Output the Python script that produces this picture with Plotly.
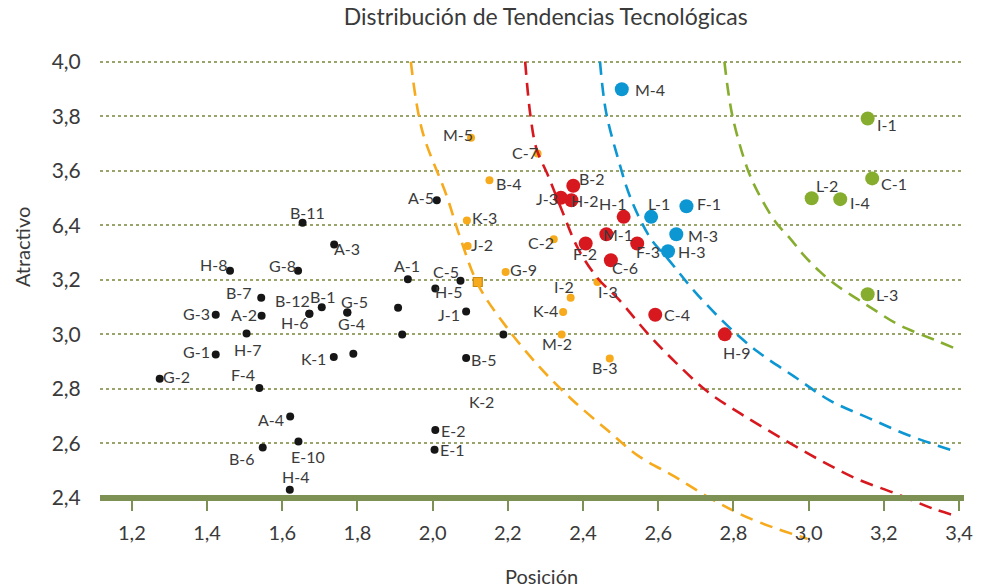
import plotly.graph_objects as go

# ---------------- data ----------------
black_names = ["B-11", "A-3", "H-8", "G-8", "B-7", "B-12", "H-6", "B-1", "G-5", "G-4",
               "G-3", "A-2", "H-7", "G-1", "K-1", "G-2", "F-4", "A-4", "E-10", "B-6",
               "H-4", "E-2", "E-1", "K-2", "A-1", "C-5", "H-5", "J-1", "B-5", "A-5",
               "", "", ""]
black_x = [1.654, 1.738, 1.461, 1.642, 1.544, 1.672, 1.672, 1.705, 1.773, 1.773,
           1.423, 1.545, 1.505, 1.423, 1.737, 1.274, 1.539, 1.621, 1.643, 1.548,
           1.620, 2.007, 2.005, 2.188, 1.934, 2.074, 2.007, 2.089, 2.089, 2.011,
           1.789, 1.908, 1.919]
black_y = [3.409, 3.330, 3.233, 3.233, 3.134, 3.076, 3.076, 3.099, 3.080, 3.080,
           3.072, 3.068, 3.003, 2.926, 2.917, 2.837, 2.803, 2.699, 2.607, 2.585,
           2.430, 2.649, 2.577, 2.999, 3.202, 3.197, 3.168, 3.084, 2.913, 3.492,
           2.929, 3.098, 2.999]

orange_names = ["M-5", "C-7", "B-4", "K-3", "J-2", "C-2", "G-9", "I-2", "I-3", "K-4", "M-2", "B-3"]
orange_x = [2.102, 2.279, 2.151, 2.091, 2.093, 2.322, 2.194, 2.367, 2.438, 2.347, 2.343, 2.471]
orange_y = [3.721, 3.663, 3.565, 3.418, 3.324, 3.349, 3.229, 3.134, 3.192, 3.082, 2.999, 2.911]

square_x = [2.120]
square_y = [3.192]

red_names = ["B-2", "J-3", "H-2", "H-1", "M-1", "F-2", "F-3", "C-6", "C-4", "H-9"]
red_x = [2.374, 2.341, 2.369, 2.508, 2.462, 2.407, 2.544, 2.474, 2.592, 2.777]
red_y = [3.545, 3.501, 3.492, 3.431, 3.367, 3.333, 3.333, 3.272, 3.072, 3.000]

blue_names = ["M-4", "L-1", "F-1", "M-3", "H-3"]
blue_x = [2.503, 2.581, 2.675, 2.648, 2.626]
blue_y = [3.899, 3.431, 3.470, 3.367, 3.305]

green_names = ["I-1", "C-1", "L-2", "I-4", "L-3"]
green_x = [3.157, 3.169, 3.008, 3.084, 3.157]
green_y = [3.792, 3.572, 3.499, 3.496, 3.147]

# dashed boundary curves
curve_orange_x = [1.942, 1.972, 2.037, 2.074, 2.122, 2.193, 2.281, 2.368,
                  2.466, 2.546, 2.644, 2.739, 2.845, 2.996]
curve_orange_y = [4.000, 3.748, 3.509, 3.351, 3.179, 3.033, 2.885, 2.764,
                  2.647, 2.555, 2.478, 2.398, 2.324, 2.250]
curve_red_x = [2.246, 2.260, 2.276, 2.307, 2.342, 2.387, 2.440, 2.493, 2.572, 2.644,
               2.731, 2.819, 2.917, 3.023, 3.128, 3.234, 3.332, 3.399]
curve_red_y = [4.000, 3.803, 3.681, 3.582, 3.461, 3.314, 3.204, 3.131, 3.003, 2.900,
               2.790, 2.709, 2.628, 2.544, 2.470, 2.415, 2.360, 2.331]
curve_blue_x = [2.445, 2.461, 2.493, 2.527, 2.580, 2.625, 2.697, 2.784, 2.864, 2.962,
                3.057, 3.163, 3.269, 3.385]
curve_blue_y = [4.000, 3.817, 3.645, 3.498, 3.351, 3.278, 3.157, 3.032, 2.937, 2.845,
                2.757, 2.691, 2.628, 2.573]
curve_green_x = [2.776, 2.797, 2.837, 2.864, 2.911, 2.951, 2.988, 3.030, 3.075,
                 3.128, 3.181, 3.234, 3.287, 3.340, 3.385]
curve_green_y = [4.000, 3.803, 3.608, 3.524, 3.414, 3.351, 3.289, 3.230, 3.179,
                 3.131, 3.084, 3.039, 3.006, 2.977, 2.951]

x_ticks = [1.2, 1.4, 1.6, 1.8, 2.0, 2.2, 2.4, 2.6, 2.8, 3.0, 3.2, 3.4]
x_ticktext = ["1,2", "1,4", "1,6", "1,8", "2,0", "2,2", "2,4", "2,6", "2,8", "3,0", "3,2", "3,4"]
y_ticks = [2.4, 2.6, 2.8, 3.0, 3.2, 3.4, 3.6, 3.8, 4.0]
y_ticktext = ["2,4", "2,6", "2,8", "3,0", "3,2", "6,4", "3,6", "3,8", "4,0"]

# label offsets in pixels (dx right, dy down) -- styling only
label_offsets = {
    "B-11": (5, -10), "A-3": (13, 4), "H-8": (-17, -6), "G-8": (-16, -5), "B-7": (-22, -5),
    "B-12": (-17, -13), "H-6": (-15, 9), "B-1": (1, -11), "G-5": (7, -11), "G-4": (4, 11),
    "G-3": (-19, -1), "A-2": (-18, -1), "H-7": (1, 16), "G-1": (-19, -3), "K-1": (-20, 2),
    "G-2": (17, -2), "F-4": (-16, -14), "A-4": (-19, 3), "E-10": (10, 15), "B-6": (-21, 11),
    "H-4": (6, -13), "E-2": (18, 0), "E-1": (17, 0), "K-2": (-22, 67), "A-1": (-1, -14),
    "C-5": (-14, -9), "H-5": (13, 3), "J-1": (-17, 3), "B-5": (18, 1), "A-5": (-16, -3),
    "M-5": (-13, -3), "C-7": (-13, -1), "B-4": (20, 3), "K-3": (18, -3), "J-2": (14, -2),
    "C-2": (-13, 3), "G-9": (18, -2), "I-2": (-7, -11), "I-3": (11, 9), "K-4": (-18, -2),
    "M-2": (-5, 9), "B-3": (-5, 9),
    "B-2": (19, -7), "J-3": (-14, 1), "H-2": (13, 0), "H-1": (-11, -13), "M-1": (12, 0),
    "F-2": (-1, 10), "F-3": (11, 8), "C-6": (14, 7), "C-4": (22, 0), "H-9": (12, 18),
    "M-4": (28, 0), "L-1": (8, -13), "F-1": (23, -3), "M-3": (27, 1), "H-3": (23, 0),
    "I-1": (19, 6), "C-1": (22, 5), "L-2": (15, -13), "I-4": (20, 3), "L-3": (19, 0),
}

C_ORANGE = "#F6AA1C"
C_RED = "#D7191F"
C_BLUE = "#0C96D2"
C_GREEN = "#86AD2E"
C_BLACK = "#161616"
C_OLIVE = "#7E9154"
C_GRID = "#98A46A"
TXT = "#3a3a3a"
FONT = "Lato, 'Open Sans', sans-serif"

X_RANGE = [1.1152, 3.4132]
Y_RANGE = [2.22, 4.01]

fig = go.Figure()

# curves
for cx, cy, col in [(curve_orange_x, curve_orange_y, C_ORANGE),
                    (curve_red_x, curve_red_y, C_RED),
                    (curve_blue_x, curve_blue_y, C_BLUE),
                    (curve_green_x, curve_green_y, C_GREEN)]:
    fig.add_trace(go.Scatter(x=cx, y=cy, mode="lines", xaxis="x2", yaxis="y",
                             line=dict(color=col, width=2.6, dash="13px,8px", shape="spline",
                                       smoothing=1.0),
                             hoverinfo="skip", showlegend=False))

# points
fig.add_trace(go.Scatter(x=black_x, y=black_y, mode="markers",
                         marker=dict(color=C_BLACK, size=8), showlegend=False))
fig.add_trace(go.Scatter(x=orange_x, y=orange_y, mode="markers",
                         marker=dict(color=C_ORANGE, size=8), showlegend=False))
fig.add_trace(go.Scatter(x=square_x, y=square_y, mode="markers",
                         marker=dict(color=C_ORANGE, size=9, symbol="square",
                                     line=dict(color="#C98A10", width=1.2)), showlegend=False))
fig.add_trace(go.Scatter(x=red_x, y=red_y, mode="markers",
                         marker=dict(color=C_RED, size=14), showlegend=False))
fig.add_trace(go.Scatter(x=blue_x, y=blue_y, mode="markers",
                         marker=dict(color=C_BLUE, size=14), showlegend=False))
fig.add_trace(go.Scatter(x=green_x, y=green_y, mode="markers",
                         marker=dict(color=C_GREEN, size=14), showlegend=False))

# labels
annotations = []
for names, xs, ys in [(black_names, black_x, black_y), (orange_names, orange_x, orange_y),
                      (red_names, red_x, red_y), (blue_names, blue_x, blue_y),
                      (green_names, green_x, green_y)]:
    for n, xv, yv in zip(names, xs, ys):
        if not n:
            continue
        dx, dy = label_offsets.get(n, (15, 0))
        annotations.append(dict(x=xv, y=yv, xref="x", yref="y", text=n, showarrow=False,
                                xanchor="center", yanchor="middle", xshift=dx, yshift=-dy,
                                font=dict(family=FONT, size=16, color=TXT)))

# axis titles
annotations.append(dict(text="Posición", x=0.511, y=-0.06, xref="paper", yref="paper",
                        showarrow=False, xanchor="center", yanchor="middle",
                        font=dict(family=FONT, size=20, color=TXT)))
annotations.append(dict(text="Atractivo", x=-0.09, y=0.615, xref="paper", yref="paper",
                        showarrow=False, xanchor="center", yanchor="middle", textangle=-90,
                        font=dict(family=FONT, size=20, color=TXT)))

# blue-ish dotted line at 3.0
shapes = [dict(type="line", xref="paper", x0=0, x1=1, yref="y", y0=y_ticks[3], y1=y_ticks[3],
               line=dict(color="#4F9DB5", width=1.5, dash="dot"), layer="below")]

base_pos = (y_ticks[0] - Y_RANGE[0]) / (Y_RANGE[1] - Y_RANGE[0])

fig.update_layout(
    width=985, height=587,
    margin=dict(l=100, r=18, t=59, b=40),
    paper_bgcolor="white", plot_bgcolor="white",
    title=dict(text="Distribución de Tendencias Tecnológicas", x=0.554, y=0.971,
               xanchor="center", yanchor="middle",
               font=dict(family=FONT, size=23, color=TXT)),
    xaxis=dict(range=X_RANGE, tickvals=x_ticks, ticktext=x_ticktext, showgrid=False,
               zeroline=False, showline=False, ticks="", ticklabelposition="inside",
               ticklabeloverflow="allow",
               tickfont=dict(family=FONT, size=20, color=TXT)),
    xaxis2=dict(range=X_RANGE, overlaying="x", anchor="free", position=base_pos, side="bottom",
                showgrid=False, zeroline=False, showline=True, linecolor=C_OLIVE, linewidth=6,
                tickvals=x_ticks, showticklabels=False, ticks="outside", ticklen=10,
                tickwidth=2, tickcolor=C_OLIVE),
    yaxis=dict(range=Y_RANGE, tickvals=y_ticks, ticktext=y_ticktext, showgrid=True,
               gridcolor=C_GRID, griddash="dot", gridwidth=1.5, zeroline=False,
               showline=False, ticks="outside", ticklen=14, tickcolor="rgba(0,0,0,0)",
               tickfont=dict(family=FONT, size=21, color=TXT)),
    annotations=annotations,
    shapes=shapes,
)

fig.write_html("out.html", config={"displayModeBar": False},
               post_script="document.body.style.margin='0';document.body.style.overflow='hidden';")
